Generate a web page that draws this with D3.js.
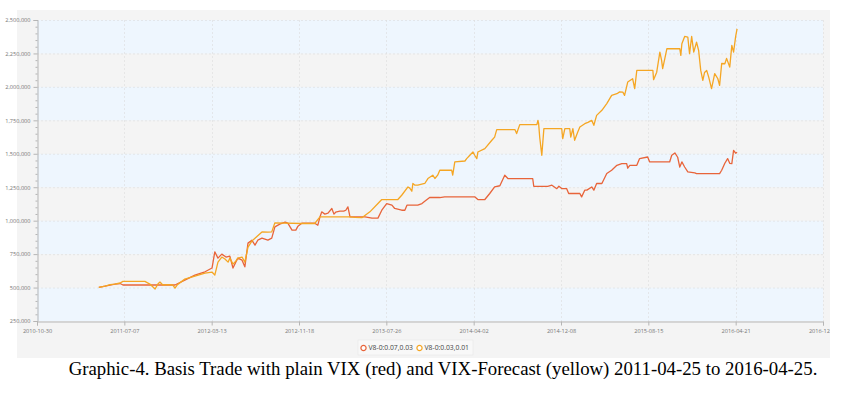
<!DOCTYPE html>
<html>
<head>
<meta charset="utf-8">
<script src="https://cdn.jsdelivr.net/npm/d3@7"></script>
<style>
  body { margin: 0; background: #fff; }
  svg { display: block; }
</style>
</head>
<body>
<svg id="chart" width="845" height="395"></svg>
<script>
// tick labels
var xTicks = ["2010-10-30", "2011-07-07", "2012-03-13", "2012-11-18", "2013-07-26",
  "2014-04-02", "2014-12-08", "2015-08-15", "2016-04-21", "2016-12-27"];
var yTicks = [250000, 500000, 750000, 1000000, 1250000, 1500000, 1750000, 2000000, 2250000, 2500000];

var seriesNames = ["V8-0:0.07,0.03", "V8-0:0.03,0.01"];

// V8-0:0.07,0.03 (red)
var redDates = ["2011-04-25","2011-05-13","2011-05-27","2011-06-10","2011-06-25","2011-07-03","2011-09-04","2011-10-17",
  "2011-11-23","2011-11-29","2011-12-27","2012-01-25","2012-02-23","2012-03-14","2012-03-22","2012-03-31","2012-04-11",
  "2012-04-23","2012-05-04","2012-05-13","2012-05-21","2012-05-27","2012-06-08","2012-06-16","2012-06-25","2012-07-06",
  "2012-07-15","2012-07-23","2012-08-04","2012-08-21","2012-09-01","2012-09-10","2012-09-24","2012-10-09","2012-10-17",
  "2012-10-29","2012-11-09","2012-11-15","2012-11-26","2013-01-02","2013-01-11","2013-01-17","2013-01-22","2013-01-31",
  "2013-02-09","2013-02-20","2013-02-26","2013-03-03","2013-03-15","2013-03-26","2013-04-01","2013-04-07","2013-04-13",
  "2013-05-26","2013-06-15","2013-07-02","2013-07-13","2013-07-27","2013-08-11","2013-08-19","2013-09-08","2013-09-17",
  "2013-09-23","2013-10-24","2013-11-05","2013-11-13","2013-11-27","2013-12-26","2014-01-09","2014-04-05","2014-04-14",
  "2014-05-04","2014-05-18","2014-06-01","2014-06-16","2014-06-30","2014-07-09","2014-09-18","2014-09-21","2014-10-31",
  "2014-11-12","2014-11-20","2014-11-26","2014-12-02","2014-12-10","2014-12-24","2014-12-30","2015-01-31","2015-02-05",
  "2015-02-14","2015-02-20","2015-03-06","2015-03-12","2015-03-20","2015-04-04","2015-04-18","2015-05-02","2015-05-17",
  "2015-05-31","2015-06-14","2015-06-17","2015-06-23","2015-07-13","2015-07-21","2015-08-13","2015-08-19","2015-10-15",
  "2015-10-21","2015-10-30","2015-11-07","2015-11-13","2015-11-19","2015-11-27","2015-12-06","2015-12-26","2015-12-31",
  "2016-03-06","2016-03-12","2016-03-21","2016-03-29","2016-04-04","2016-04-10","2016-04-15","2016-04-21","2016-04-25"];
var redValues = [501000,511000,519000,526000,530000,519000,519000,519000,
  519000,519000,556000,593000,618000,646000,767000,720000,750000,
  728000,735000,646000,690000,720000,705000,655000,832000,854000,
  817000,854000,869000,854000,869000,954000,974000,989000,981000,
  929000,929000,959000,981000,981000,966000,1028000,1066000,1049000,
  1056000,1091000,1049000,1063000,1071000,1071000,1078000,1103000,1028000,
  1028000,1019000,1019000,1078000,1128000,1116000,1091000,1078000,1078000,
  1116000,1116000,1128000,1145000,1173000,1173000,1178000,1178000,1158000,
  1158000,1203000,1252000,1261000,1340000,1315000,1315000,1257000,1257000,
  1265000,1250000,1239000,1257000,1240000,1240000,1203000,1203000,1178000,
  1228000,1228000,1252000,1228000,1278000,1278000,1352000,1377000,1414000,
  1427000,1427000,1392000,1414000,1414000,1464000,1476000,1439000,1439000,
  1489000,1506000,1474000,1401000,1439000,1401000,1364000,1357000,1352000,
  1352000,1377000,1429000,1464000,1429000,1427000,1526000,1504000,1511000];

// V8-0:0.03,0.01 (yellow)
var yellowDates = ["2011-04-25","2011-05-13","2011-05-27","2011-06-10","2011-06-25","2011-07-03","2011-09-04","2011-09-18",
  "2011-10-03","2011-10-11","2011-10-17","2011-10-25","2011-11-09","2011-11-23","2011-11-29","2011-12-05","2011-12-27",
  "2012-01-25","2012-02-23","2012-03-14","2012-03-22","2012-03-31","2012-04-11","2012-04-20","2012-04-29","2012-05-04",
  "2012-05-13","2012-05-21","2012-05-27","2012-06-08","2012-06-16","2012-06-25","2012-07-06","2012-07-15","2012-08-04",
  "2012-08-21","2012-09-01","2012-09-10","2012-11-26","2013-01-02","2013-01-17","2013-04-13","2013-04-27","2013-05-17",
  "2013-06-09","2013-07-02","2013-07-13","2013-08-28","2013-09-08","2013-09-26","2013-10-01","2013-10-07","2013-10-10",
  "2013-10-16","2013-10-24","2013-11-13","2013-11-22","2013-12-06","2013-12-12","2013-12-20","2013-12-26","2014-01-29",
  "2014-02-01","2014-02-07","2014-03-08","2014-03-13","2014-03-22","2014-03-31","2014-04-05","2014-04-11","2014-04-14",
  "2014-05-04","2014-05-24","2014-06-01","2014-06-07","2014-07-29","2014-08-03","2014-08-12","2014-09-30","2014-10-03",
  "2014-10-05","2014-10-08","2014-10-14","2014-10-17","2014-10-20","2014-12-10","2014-12-13","2014-12-19","2015-01-02",
  "2015-01-05","2015-01-11","2015-01-16","2015-01-25","2015-01-31","2015-02-14","2015-02-23","2015-03-06","2015-03-12",
  "2015-03-20","2015-04-04","2015-04-18","2015-05-02","2015-05-17","2015-05-25","2015-06-03","2015-06-08","2015-06-17",
  "2015-07-01","2015-07-07","2015-07-13","2015-08-28","2015-08-30","2015-09-08","2015-09-17","2015-09-22","2015-09-25",
  "2015-10-01","2015-10-07","2015-11-13","2015-11-16","2015-11-19","2015-11-27","2015-12-06","2015-12-11","2015-12-17",
  "2015-12-23","2015-12-31","2016-01-06","2016-01-12","2016-01-18","2016-01-23","2016-01-29","2016-02-04","2016-02-12",
  "2016-02-21","2016-03-01","2016-03-06","2016-03-12","2016-03-21","2016-03-26","2016-04-04","2016-04-10","2016-04-15",
  "2016-04-21","2016-04-25"];
var yellowValues = [501000,511000,522000,526000,534000,546000,546000,526000,
  489000,526000,541000,519000,522000,519000,496000,519000,563000,
  586000,608000,616000,593000,690000,728000,713000,690000,720000,
  675000,698000,720000,728000,690000,802000,847000,869000,916000,
  914000,916000,984000,979000,979000,1028000,1028000,1024000,1022000,
  1066000,1128000,1158000,1158000,1190000,1252000,1243000,1220000,1278000,
  1265000,1265000,1278000,1315000,1340000,1315000,1340000,1377000,1377000,
  1340000,1439000,1446000,1464000,1489000,1513000,1489000,1464000,1513000,
  1539000,1601000,1625000,1681000,1681000,1651000,1718000,1718000,1750000,
  1725000,1625000,1489000,1588000,1688000,1688000,1613000,1688000,1688000,
  1625000,1688000,1601000,1663000,1700000,1725000,1735000,1750000,1713000,
  1787000,1825000,1875000,1937000,1949000,1963000,1961000,1937000,2036000,
  2061000,1987000,2123000,2123000,2054000,2110000,2260000,2198000,2136000,
  2210000,2285000,2285000,2235000,2322000,2377000,2372000,2248000,2377000,
  2260000,2334000,2272000,2123000,2049000,2108000,2123000,2071000,1987000,
  2099000,2061000,2011000,2175000,2173000,2213000,2148000,2310000,2260000,
  2377000,2434000];

var colors = ["#e8643a", "#f5a623"];

var parse = d3.timeParse("%Y-%m-%d");
var svg = d3.select("#chart");

svg.append("defs").append("clipPath").attr("id", "panelClip")
  .append("rect").attr("x", 0).attr("y", 0).attr("width", 830).attr("height", 395);

// outer panel
svg.append("rect")
  .attr("x", 17).attr("y", 10).attr("width", 813).attr("height", 348)
  .attr("fill", "#f4f4f4");

var x = d3.scaleTime()
  .domain([parse(xTicks[0]), parse(xTicks[xTicks.length - 1])])
  .range([37, 823]);
var y = d3.scaleLinear()
  .domain([yTicks[0], yTicks[yTicks.length - 1]])
  .range([321, 20]);

// alternating bands
var bands = svg.append("g");
for (var i = 0; i < yTicks.length - 1; i++) {
  bands.append("rect")
    .attr("x", x.range()[0]).attr("width", x.range()[1] - x.range()[0])
    .attr("y", y(yTicks[i + 1])).attr("height", y(yTicks[i]) - y(yTicks[i + 1]))
    .attr("fill", i % 2 === 0 ? "#eef6fe" : "#f4f4f4");
}

// grid
var grid = svg.append("g").attr("stroke", "#dcdcdc").attr("stroke-dasharray", "2,2").attr("stroke-width", 0.6);
grid.selectAll("line.h").data(yTicks.slice(1)).enter().append("line")
  .attr("x1", 37).attr("x2", 823)
  .attr("y1", function(d) { return y(d) + 0.5; }).attr("y2", function(d) { return y(d) + 0.5; });
grid.selectAll("line.v").data(xTicks.slice(1)).enter().append("line")
  .attr("y1", 20).attr("y2", 321)
  .attr("x1", function(d) { return Math.round(x(parse(d))) + 0.5; })
  .attr("x2", function(d) { return Math.round(x(parse(d))) + 0.5; });

// y axis
svg.append("g")
  .attr("transform", "translate(37.5,0)")
  .call(d3.axisLeft(y).tickValues(yTicks).tickFormat(d3.format(",")).tickSize(4).tickPadding(3));
var minor = d3.range(yTicks[0], yTicks[yTicks.length - 1], 50000).filter(function(v) { return v % 250000 !== 0; });
svg.append("g").attr("transform", "translate(37.5,0)")
  .call(d3.axisLeft(y).tickValues(minor).tickFormat("").tickSize(2))
  .select(".domain").remove();

// x axis
svg.append("g")
  .attr("clip-path", "url(#panelClip)")
  .append("g")
  .attr("transform", "translate(0,321.5)")
  .call(d3.axisBottom(x).tickValues(xTicks.map(parse)).tickFormat(d3.timeFormat("%Y-%m-%d")).tickSize(4).tickPadding(4));

svg.selectAll(".domain, .tick line").attr("stroke", "#b5b5b5");
svg.selectAll(".tick text")
  .attr("fill", "#777")
  .style("font-family", "'Open Sans', sans-serif")
  .style("font-size", "5.6px");

// lines
var line = d3.line()
  .x(function(d) { return x(d.date); })
  .y(function(d) { return y(d.value); });

var series = [
  redDates.map(function(d, i) { return { date: parse(d), value: redValues[i] }; }),
  yellowDates.map(function(d, i) { return { date: parse(d), value: yellowValues[i] }; })
];

svg.append("g").selectAll("path").data(series).enter().append("path")
  .attr("d", line)
  .attr("fill", "none")
  .attr("stroke", function(d, i) { return colors[i]; })
  .attr("stroke-width", 1.3)
  .attr("stroke-linejoin", "round");

// legend
var legend = svg.append("g");
legend.append("rect")
  .attr("x", 358).attr("y", 340).attr("width", 115).attr("height", 15)
  .attr("fill", "#f8f8f8").attr("stroke", "#e6e6e6").attr("stroke-width", 0.6);
var items = legend.selectAll("g.item").data(seriesNames).enter().append("g")
  .attr("transform", function(d, i) { return "translate(" + (363.5 + i * 56) + ",348)"; });
items.append("circle").attr("r", 2.6).attr("fill", "#fff")
  .attr("stroke", function(d, i) { return colors[i]; }).attr("stroke-width", 1.2);
items.append("text")
  .attr("x", 5).attr("dy", "0.35em")
  .attr("fill", "#444")
  .style("font-family", "'Open Sans', sans-serif")
  .style("font-size", "6.8px")
  .text(function(d) { return d; });

// caption
svg.append("text")
  .attr("x", 443).attr("y", 375)
  .attr("text-anchor", "middle")
  .style("font-family", "'Liberation Serif', 'Times New Roman', serif")
  .style("font-size", "18.8px")
  .attr("fill", "#000")
  .text("Graphic-4. Basis Trade with plain VIX (red) and VIX-Forecast (yellow) 2011-04-25 to 2016-04-25.");
</script>
</body>
</html>
